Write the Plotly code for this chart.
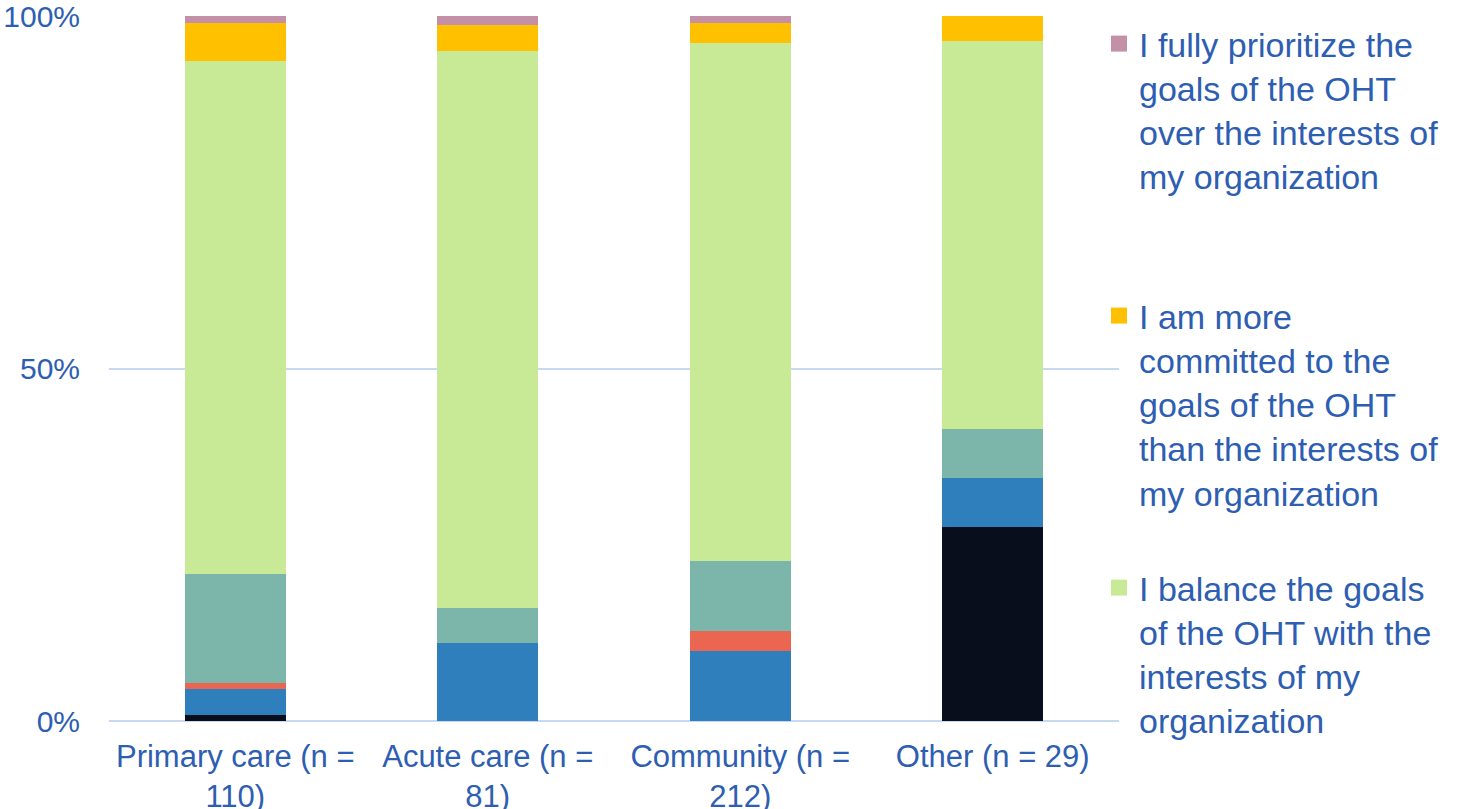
import plotly.graph_objects as go

categories = ["Primary care (n =<br>110)", "Acute care (n =<br>81)", "Community (n =<br>212)", "Other (n = 29)"]

# percent of respondents per category (bottom to top)
not_applicable = [0.91, 0.0, 0.0, 27.59]
dont_know = [3.64, 11.11, 9.91, 6.90]
org_fully = [0.91, 0.0, 2.83, 0.0]
org_more = [15.45, 4.94, 9.91, 6.90]
balance = [72.73, 79.01, 73.58, 55.17]
oht_more = [5.45, 3.70, 2.83, 3.45]
oht_fully = [0.91, 1.23, 0.94, 0.0]

series = [
    ("Not applicable", not_applicable, "#090e1c", False),
    ("Don't know", dont_know, "#2e7fbc", False),
    ("I fully prioritize the interests of my organization over the goals of the OHT", org_fully, "#eb6650", False),
    ("I am more committed to the interests of my organization than the goals of the OHT", org_more, "#7cb5a9", False),
    ("I balance the goals<br>of the OHT with the<br>interests of my<br>organization", balance, "#c8ea96", True),
    ("I am more<br>committed to the<br>goals of the OHT<br>than the interests of<br>my organization", oht_more, "#ffc000", True),
    ("I fully prioritize the<br>goals of the OHT<br>over the interests of<br>my organization<br>&nbsp;", oht_fully, "#c490a8", True),
]

TEXT = "#2d5eb2"
GRID = "#c8d8f2"

fig = go.Figure()
for name, vals, color, _ in series:
    fig.add_trace(go.Bar(
        x=categories, y=vals, name=name, marker=dict(color=color, line=dict(width=0)),
        showlegend=False,
    ))

# legend proxies (top three entries visible)
rank = 1
for name, vals, color, show in reversed(series):
    if show:
        fig.add_trace(go.Scatter(
            x=[None], y=[None], mode="markers", name=name,
            marker=dict(symbol="square", size=17, color=color),
            legendgroup=f"g{rank}", legendrank=rank, showlegend=True,
        ))
        rank += 1

W, H = 1470, 809
fig.update_layout(
    barmode="stack",
    bargap=0.6,
    width=W, height=H,
    margin=dict(l=109, r=351, t=16, b=88, autoexpand=False),
    plot_bgcolor="white", paper_bgcolor="white",
    font=dict(family="Liberation Sans, Arial, sans-serif", color=TEXT, size=30),
    legend=dict(
        x=1099 / W, xref="container", xanchor="left",
        y=1 - 15 / H, yref="container", yanchor="top",
        font=dict(size=34, color=TEXT),
        valign="top",
        tracegroupgap=48,
        itemwidth=30,
        maxheight=1.0,
        bgcolor="rgba(0,0,0,0)",
    ),
    xaxis=dict(
        tickfont=dict(size=31, color=TEXT),
        showgrid=False, showline=False, ticks="",
        ticklabelstandoff=14,
    ),
    yaxis=dict(
        range=[0, 100.05],
        tickvals=[0, 50, 100], ticktext=["0%", "50%", "100%"],
        tickfont=dict(size=30, color=TEXT),
        showgrid=True, gridcolor=GRID, gridwidth=2,
        zeroline=True, zerolinecolor=GRID, zerolinewidth=2,
        showline=False, ticks="", ticklabelstandoff=28,
        ticklabeloverflow="allow",
    ),
)

fig.write_html("out.html")
